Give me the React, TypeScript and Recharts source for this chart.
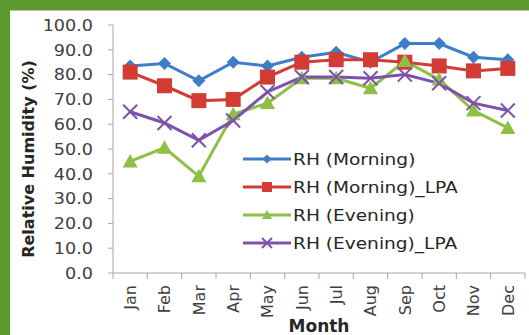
import { LineChart, Line, XAxis, YAxis, Legend } from "recharts"

const months = ["Jan", "Feb", "Mar", "Apr", "May", "Jun", "Jul", "Aug", "Sep", "Oct", "Nov", "Dec"]
const rhMorning = [83.5, 84.5, 77.5, 85, 83.5, 87, 89, 85, 92.5, 92.5, 87, 86]
const rhMorningLpa = [81, 75.5, 69.5, 70, 79, 85, 86, 86, 85, 83.5, 81.5, 82.5]
const rhEvening = [45, 50.5, 39, 64, 68.5, 78.5, 78.5, 74.5, 85.5, 78, 65.5, 58.5]
const rhEveningLpa = [65, 60.5, 53.5, 61.5, 73, 79, 79, 78.5, 80, 76.5, 68.5, 65.5]
const yTicks = [0, 10, 20, 30, 40, 50, 60, 70, 80, 90, 100]

const data = months.map((month, i) => ({
  month,
  rhMorning: rhMorning[i],
  rhMorningLpa: rhMorningLpa[i],
  rhEvening: rhEvening[i],
  rhEveningLpa: rhEveningLpa[i],
}))

const FONT = "'DejaVu Sans', sans-serif"
const AXIS = "#a6a6a6"
const CHART_W = 519
const CHART_H = 325
const Y_W = 103
const M_RIGHT = 4
const STEP = (CHART_W - Y_W - M_RIGHT) / months.length

const series = [
  { key: "rhMorning", name: "RH (Morning)", color: "#3f7dc8", marker: "diamond" },
  { key: "rhMorningLpa", name: "RH (Morning)_LPA", color: "#d23c35", marker: "square" },
  { key: "rhEvening", name: "RH (Evening)", color: "#8dc044", marker: "triangle" },
  { key: "rhEveningLpa", name: "RH (Evening)_LPA", color: "#7d52ad", marker: "cross" },
]

const Marker = ({ type, cx, cy, color, s }: any) => {
  if (type === "diamond")
    return <polygon points={`${cx},${cy - s} ${cx + s},${cy} ${cx},${cy + s} ${cx - s},${cy}`} fill={color} />
  if (type === "square")
    return <rect x={cx - s} y={cy - s} width={s * 2} height={s * 2} fill={color} />
  if (type === "triangle")
    return <polygon points={`${cx},${cy - s} ${cx + s},${cy + s * 0.8} ${cx - s},${cy + s * 0.8}`} fill={color} />
  return (
    <g stroke={color} strokeWidth={2}>
      <line x1={cx - s} y1={cy - s} x2={cx + s} y2={cy + s} />
      <line x1={cx - s} y1={cy + s} x2={cx + s} y2={cy - s} />
    </g>
  )
}

const dotSize: Record<string, number> = { diamond: 6.5, square: 7.5, triangle: 7.5, cross: 7 }

const MonthTick = ({ x, y, payload, index }: any) => (
  <g>
    <line x1={x - STEP / 2} y1={y} x2={x - STEP / 2} y2={y + 6} stroke={AXIS} />
    {index === months.length - 1 && <line x1={x + STEP / 2} y1={y} x2={x + STEP / 2} y2={y + 6} stroke={AXIS} />}
    <text
      x={x}
      y={y + 12}
      dy="0.36em"
      transform={`rotate(-90 ${x} ${y + 12})`}
      textAnchor="end"
      fontSize={16}
      fontFamily={FONT}
      fill="#404040"
    >
      {payload.value}
    </text>
  </g>
)

const ValueTick = ({ x, y, payload }: any) => (
  <text
    transform={`translate(${x} ${y}) scale(1.1 1)`}
    dy="0.36em"
    textAnchor="end"
    fontSize={16}
    fontFamily={FONT}
    fill="#404040"
  >
    {payload.value.toFixed(1)}
  </text>
)

const YLabel = ({ viewBox }: any) => {
  const cx = viewBox.x + 18
  const cy = viewBox.y + viewBox.height / 2 + 10
  return (
    <text
      x={cx}
      y={cy}
      transform={`rotate(-90 ${cx} ${cy})`}
      textAnchor="middle"
      dominantBaseline="central"
      fontSize={16}
      fontWeight="bold"
      fontFamily={FONT}
      fill="#262626"
    >
      Relative Humidity (%)
    </text>
  )
}

const LegendBox = () => (
  <div style={{ fontFamily: FONT }}>
    {series.map((s) => (
      <div key={s.key} style={{ display: "flex", alignItems: "center", height: 28 }}>
        <svg width={50} height={16}>
          <line x1={0} y1={8} x2={48} y2={8} stroke={s.color} strokeWidth={3} />
          <Marker type={s.marker} cx={24} cy={8} color={s.color} s={s.marker === "diamond" ? 4.5 : 5} />
        </svg>
        <span
          style={{
            fontSize: 16,
            color: "#262626",
            whiteSpace: "nowrap",
            display: "inline-block",
            transform: "scaleX(1.16)",
            transformOrigin: "left center",
          }}
        >
          {s.name}
        </span>
      </div>
    ))}
  </div>
)

export default function App() {
  return (
    <div style={{ position: "absolute", top: 0, left: 0, width: 529, height: 335, background: "#5c9a31" }}>
      <div
        style={{
          position: "absolute",
          left: 10,
          top: 10,
          width: CHART_W,
          height: CHART_H,
          background: "#fff",
          borderTop: "1px solid #bdbdbd",
          boxSizing: "border-box",
        }}
      >
        <LineChart
          width={CHART_W}
          height={CHART_H}
          data={data}
          margin={{ top: 14, right: M_RIGHT, bottom: 0, left: 0 }}
        >
          <XAxis
            dataKey="month"
            interval={0}
            height={63}
            padding={{ left: STEP / 2, right: STEP / 2 }}
            tickLine={false}
            tickSize={0}
            tickMargin={0}
            axisLine={{ stroke: AXIS }}
            tick={<MonthTick />}
            label={{
              value: "Month",
              position: "insideBottom",
              offset: 4,
              fontSize: 17,
              fontWeight: "bold",
              fontFamily: FONT,
              fill: "#262626",
            }}
          />
          <YAxis
            width={Y_W}
            domain={[0, 100]}
            ticks={yTicks}
            interval={0}
            tickSize={5}
            tickMargin={15}
            axisLine={{ stroke: AXIS }}
            tickLine={{ stroke: AXIS }}
            tick={<ValueTick />}
            label={<YLabel />}
          />
          <Legend
            layout="vertical"
            align="center"
            verticalAlign="middle"
            content={<LegendBox />}
            wrapperStyle={{ left: 233, top: 134, width: 250 }}
          />
          {series.map((s) => (
            <Line
              key={s.key}
              dataKey={s.key}
              name={s.name}
              stroke={s.color}
              strokeWidth={3}
              isAnimationActive={false}
              dot={(p: any) => (
                <Marker key={`${s.key}-${p.index}`} type={s.marker} cx={p.cx} cy={p.cy} color={s.color} s={dotSize[s.marker]} />
              )}
            />
          ))}
        </LineChart>
      </div>
    </div>
  )
}
